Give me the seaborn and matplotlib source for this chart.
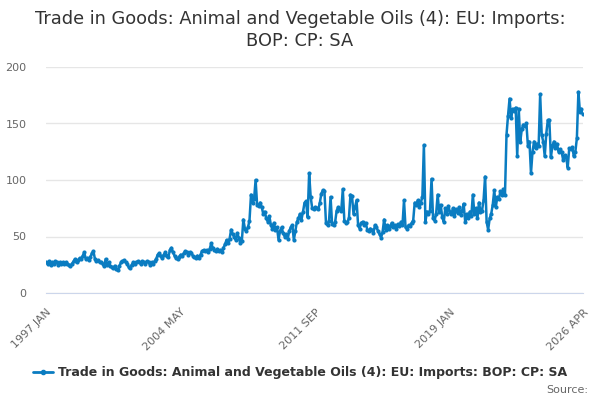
import numpy as np
import pandas as pd
import matplotlib
matplotlib.use("Agg")
import matplotlib.pyplot as plt
import seaborn as sns
from matplotlib.lines import Line2D

# monthly values, 1997 JAN .. 2026 APR
v1997 = [27, 26, 28, 25, 27, 26, 28, 27, 25, 27, 26, 27]
v1998 = [26, 27, 26, 25, 24, 26, 28, 30, 27, 29, 31, 30]
v1999 = [33, 36, 30, 31, 29, 32, 35, 37, 30, 28, 29, 27]
v2000 = [27, 26, 24, 30, 25, 27, 24, 23, 22, 24, 21, 20]
v2001 = [24, 27, 28, 29, 27, 26, 23, 22, 25, 27, 26, 27]
v2002 = [28, 27, 26, 28, 27, 26, 28, 27, 25, 27, 26, 28]
v2003 = [30, 34, 35, 33, 31, 34, 36, 33, 32, 38, 40, 36]
v2004 = [33, 31, 30, 32, 34, 33, 35, 37, 36, 34, 36, 35]
v2005 = [33, 32, 31, 33, 31, 34, 37, 38, 37, 38, 36, 39]
v2006 = [44, 40, 38, 37, 39, 37, 38, 36, 40, 43, 47, 44]
v2007 = [48, 56, 52, 50, 47, 53, 49, 44, 46, 65, 57, 55]
v2008 = [58, 64, 87, 80, 83, 100, 78, 77, 80, 76, 70, 72]
v2009 = [66, 63, 68, 60, 57, 62, 56, 58, 47, 55, 58, 53]
v2010 = [50, 52, 48, 55, 58, 60, 47, 55, 63, 66, 70, 65]
v2011 = [72, 80, 81, 67, 106, 85, 75, 74, 76, 75, 74, 80]
v2012 = [88, 91, 90, 62, 60, 64, 85, 61, 60, 63, 73, 76]
v2013 = [74, 73, 92, 64, 62, 63, 66, 87, 86, 70, 76, 82]
v2014 = [60, 57, 62, 63, 60, 62, 56, 55, 57, 56, 53, 60]
v2015 = [58, 55, 52, 49, 54, 65, 56, 60, 57, 59, 62, 58]
v2016 = [60, 57, 61, 59, 63, 60, 82, 58, 57, 60, 59, 62]
v2017 = [64, 80, 78, 82, 76, 80, 85, 131, 63, 72, 70, 73]
v2018 = [101, 66, 64, 70, 87, 72, 78, 67, 63, 75, 70, 77]
v2019 = [72, 70, 75, 68, 74, 71, 76, 69, 73, 79, 63, 70]
v2020 = [66, 72, 68, 87, 70, 75, 66, 80, 72, 73, 82, 103]
v2021 = [63, 56, 66, 70, 78, 91, 76, 85, 83, 90, 87, 92]
v2022 = [87, 140, 157, 172, 155, 163, 161, 164, 121, 163, 134, 145]
v2023 = [149, 148, 150, 130, 134, 106, 125, 134, 128, 132, 130, 176]
v2024 = [140, 134, 121, 141, 153, 153, 120, 130, 134, 128, 132, 125]
v2025 = [127, 125, 118, 122, 120, 111, 128, 127, 129, 121, 125, 137]
v2026 = [178, 160, 163, 158]

values = (v1997 + v1998 + v1999 + v2000 + v2001 + v2002 + v2003 + v2004 + v2005
          + v2006 + v2007 + v2008 + v2009 + v2010 + v2011 + v2012 + v2013 + v2014
          + v2015 + v2016 + v2017 + v2018 + v2019 + v2020 + v2021 + v2022 + v2023
          + v2024 + v2025 + v2026)
months = pd.date_range("1997-01-01", periods=len(values), freq="MS")
labels = [d.strftime("%Y %b").upper() for d in months]

tick_labels = ["1997 JAN", "2004 MAY", "2011 SEP", "2019 JAN", "2026 APR"]
series_name = "Trade in Goods: Animal and Vegetable Oils (4): EU: Imports: BOP: CP: SA"

df = pd.DataFrame({"i": np.arange(len(values)), "value": values, "month": labels})

sns.set_style("white")
plt.rcParams["font.family"] = ["DejaVu Sans"]
line_col = "#0a7cc1"

fig = plt.figure(figsize=(6, 4), dpi=100)
ax = fig.add_axes([46 / 600, 107 / 400, 537 / 600, 226 / 400])

sns.lineplot(data=df, x="i", y="value", ax=ax, color=line_col, linewidth=1.8,
             marker="o", markersize=3, markeredgewidth=0)

ax.set_xlim(0, len(values) - 1)
ax.set_ylim(0, 200)
ax.set_yticks([0, 50, 100, 150, 200])
ax.yaxis.grid(True, color="#e6e6e6", linewidth=1)
ax.set_axisbelow(True)
ax.tick_params(axis="y", length=0, pad=14, labelsize=8, labelcolor="#666666")

# minor ticks every 22 months, labels every 88
minor = list(range(0, len(values), 22)) + [len(values) - 1]
ax.set_xticks(minor, minor=True)
major_pos = [labels.index(t) for t in tick_labels]
ax.set_xticks(major_pos)
ax.set_xticklabels(tick_labels, rotation=45, ha="right", rotation_mode="anchor",
                   fontsize=8, color="#666666")
ax.tick_params(axis="x", which="both", length=8, width=1, color="#ccd6eb", pad=2)

for s in ["top", "right", "left"]:
    ax.spines[s].set_visible(False)
ax.spines["bottom"].set_color("#ccd6eb")
ax.set_xlabel("")
ax.set_ylabel("")

fig.suptitle("Trade in Goods: Animal and Vegetable Oils (4): EU: Imports:\nBOP: CP: SA",
             x=0.5, y=0.975, fontsize=12.8, color="#333333", linespacing=1.3)

handle = Line2D([], [], color=line_col, linewidth=2, marker="o", markersize=3)
fig.legend([handle], [series_name], loc="center", bbox_to_anchor=(0.5, 0.068),
           frameon=False, handlelength=1.6, handletextpad=0.4,
           prop={"weight": "bold", "size": 9}, labelcolor="#333333")
fig.text(0.98, 0.025, "Source:", ha="right", va="center", fontsize=8, color="#666666")

fig.savefig("out.png", dpi=100)
